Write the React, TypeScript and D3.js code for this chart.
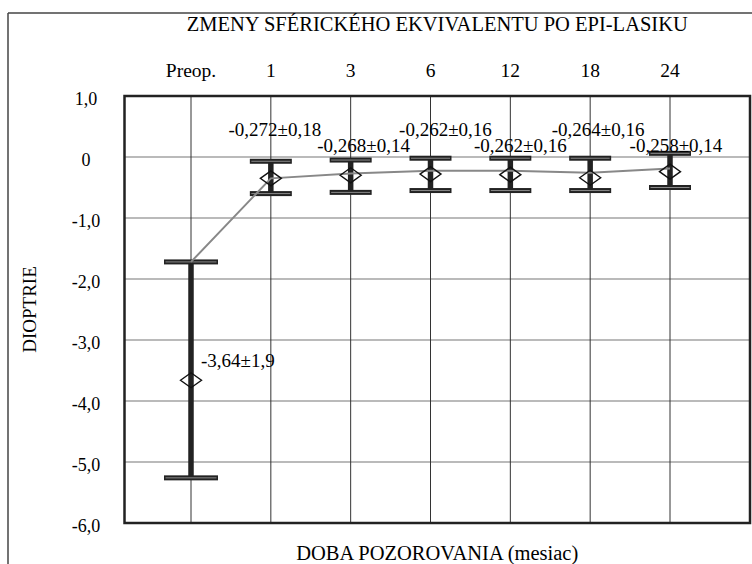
import * as d3 from "d3";

// categories (months after surgery) and values
const categories = ["Preop.", "1", "3", "6", "12", "18", "24"];
const meanValues = [-3.66, -0.35, -0.3, -0.28, -0.29, -0.34, -0.24];
const lineValues = [-1.72, -0.35, -0.27, -0.225, -0.225, -0.26, -0.19];
const upperValues = [-1.72, -0.07, -0.05, -0.02, -0.02, -0.02, 0.06];
const lowerValues = [-5.26, -0.6, -0.58, -0.55, -0.55, -0.55, -0.5];
const pointLabels = ["-3,64±1,9", "-0,272±0,18", "-0,268±0,14", "-0,262±0,16", "-0,262±0,16", "-0,264±0,16", "-0,258±0,14"];
const yTicks = [1, 0, -1, -2, -3, -4, -5, -6];
const yTickLabels = ["1,0", "0", "-1,0", "-2,0", "-3,0", "-4,0", "-5,0", "-6,0"];

const W = 752;
const H = 564;
const left = 124.5;
const right = 750;
const top = 96;
const bottom = 523;
const font = "Liberation Serif, DejaVu Serif, serif";

// label layout (annotation offsets from each point, px)
const labelDx = [10, 4, 13, 15, 10, 8, 6];

export default function App() {
  const x = d3.scalePoint<string>().domain(categories).range([191, 670]);
  const y = d3.scaleLinear().domain([1, -6]).range([top, bottom]);

  const line = d3
    .line<number>()
    .x((_, i) => x(categories[i])!)
    .y((d) => y(d));

  const diamond = (cx: number, cy: number) =>
    `M${cx - 10.5},${cy} L${cx},${cy - 7.5} L${cx + 10.5},${cy} L${cx},${cy + 7.5} Z`;

  return (
    <svg width={W} height={H} style={{ position: "absolute", left: 0, top: 0, background: "#fff", fontFamily: font }}>
      {/* outer frame */}
      <line x1={8} y1={13} x2={8} y2={H} stroke="#444" strokeWidth={1.5} />
      <line x1={8} y1={13} x2={W} y2={13} stroke="#444" strokeWidth={1.5} />

      <text x={(left + right) / 2} y={31} textAnchor="middle" fontSize={20.5}>
        ZMENY SFÉRICKÉHO EKVIVALENTU PO EPI-LASIKU
      </text>

      {/* horizontal grid */}
      {yTicks.slice(1, -1).map((t) => (
        <line key={"h" + t} x1={left} x2={right} y1={y(t)} y2={y(t)} stroke="#777" strokeWidth={1.2} />
      ))}
      {/* vertical grid */}
      {categories.map((c) => (
        <line key={"v" + c} x1={x(c)} x2={x(c)} y1={top} y2={bottom} stroke="#333" strokeWidth={1} />
      ))}

      {/* plot border */}
      <rect x={left} y={top} width={right - left} height={bottom - top} fill="none" stroke="#222" strokeWidth={2.5} />

      {/* y tick labels */}
      {yTicks.map((t, i) => (
        <text key={"yt" + t} x={86} y={y(t) + 9} textAnchor="middle" fontSize={18}>
          {yTickLabels[i]}
        </text>
      ))}

      {/* x tick labels on top */}
      {categories.map((c) => (
        <text key={"xt" + c} x={x(c)} y={77} textAnchor="middle" fontSize={19.5}>
          {c}
        </text>
      ))}

      {/* error bars */}
      {categories.map((c, i) => {
        const cx = x(c)!;
        const cw = i === 0 ? 54 : 42;
        return (
          <g key={"e" + c}>
            <line x1={cx} x2={cx} y1={y(upperValues[i])} y2={y(lowerValues[i])} stroke="#222" strokeWidth={5.5} />
            {[upperValues[i], lowerValues[i]].map((v, k) => (
              <g key={k}>
                <rect x={cx - cw / 2} y={y(v) - 2.5} width={cw} height={5} fill="#222" />
                <line x1={cx - cw / 2 + 1.5} x2={cx + cw / 2 - 1.5} y1={y(v)} y2={y(v)} stroke="#8a8a8a" strokeWidth={1} />
              </g>
            ))}
          </g>
        );
      })}

      {/* trend line */}
      <path d={line(lineValues)!} fill="none" stroke="#888" strokeWidth={2} />

      {/* mean markers */}
      {categories.map((c, i) => (
        <path key={"m" + c} d={diamond(x(c)!, y(meanValues[i]))} fill="none" stroke="#111" strokeWidth={1.4} />
      ))}

      {/* point labels */}
      {categories.map((c, i) => (
        <text
          key={"l" + c}
          x={x(c)! + labelDx[i]}
          y={i === 0 ? y(meanValues[i]) - 13 : i % 2 === 1 ? 136 : 151.5}
          textAnchor={i === 0 ? "start" : "middle"}
          fontSize={19}
        >
          {pointLabels[i]}
        </text>
      ))}

      {/* axis titles */}
      <text x={(left + right) / 2} y={560} textAnchor="middle" fontSize={20.5}>
        DOBA POZOROVANIA (mesiac)
      </text>
      <text transform={`translate(36, ${(top + bottom) / 2}) rotate(-90)`} textAnchor="middle" fontSize={19}>
        DIOPTRIE
      </text>
    </svg>
  );
}
